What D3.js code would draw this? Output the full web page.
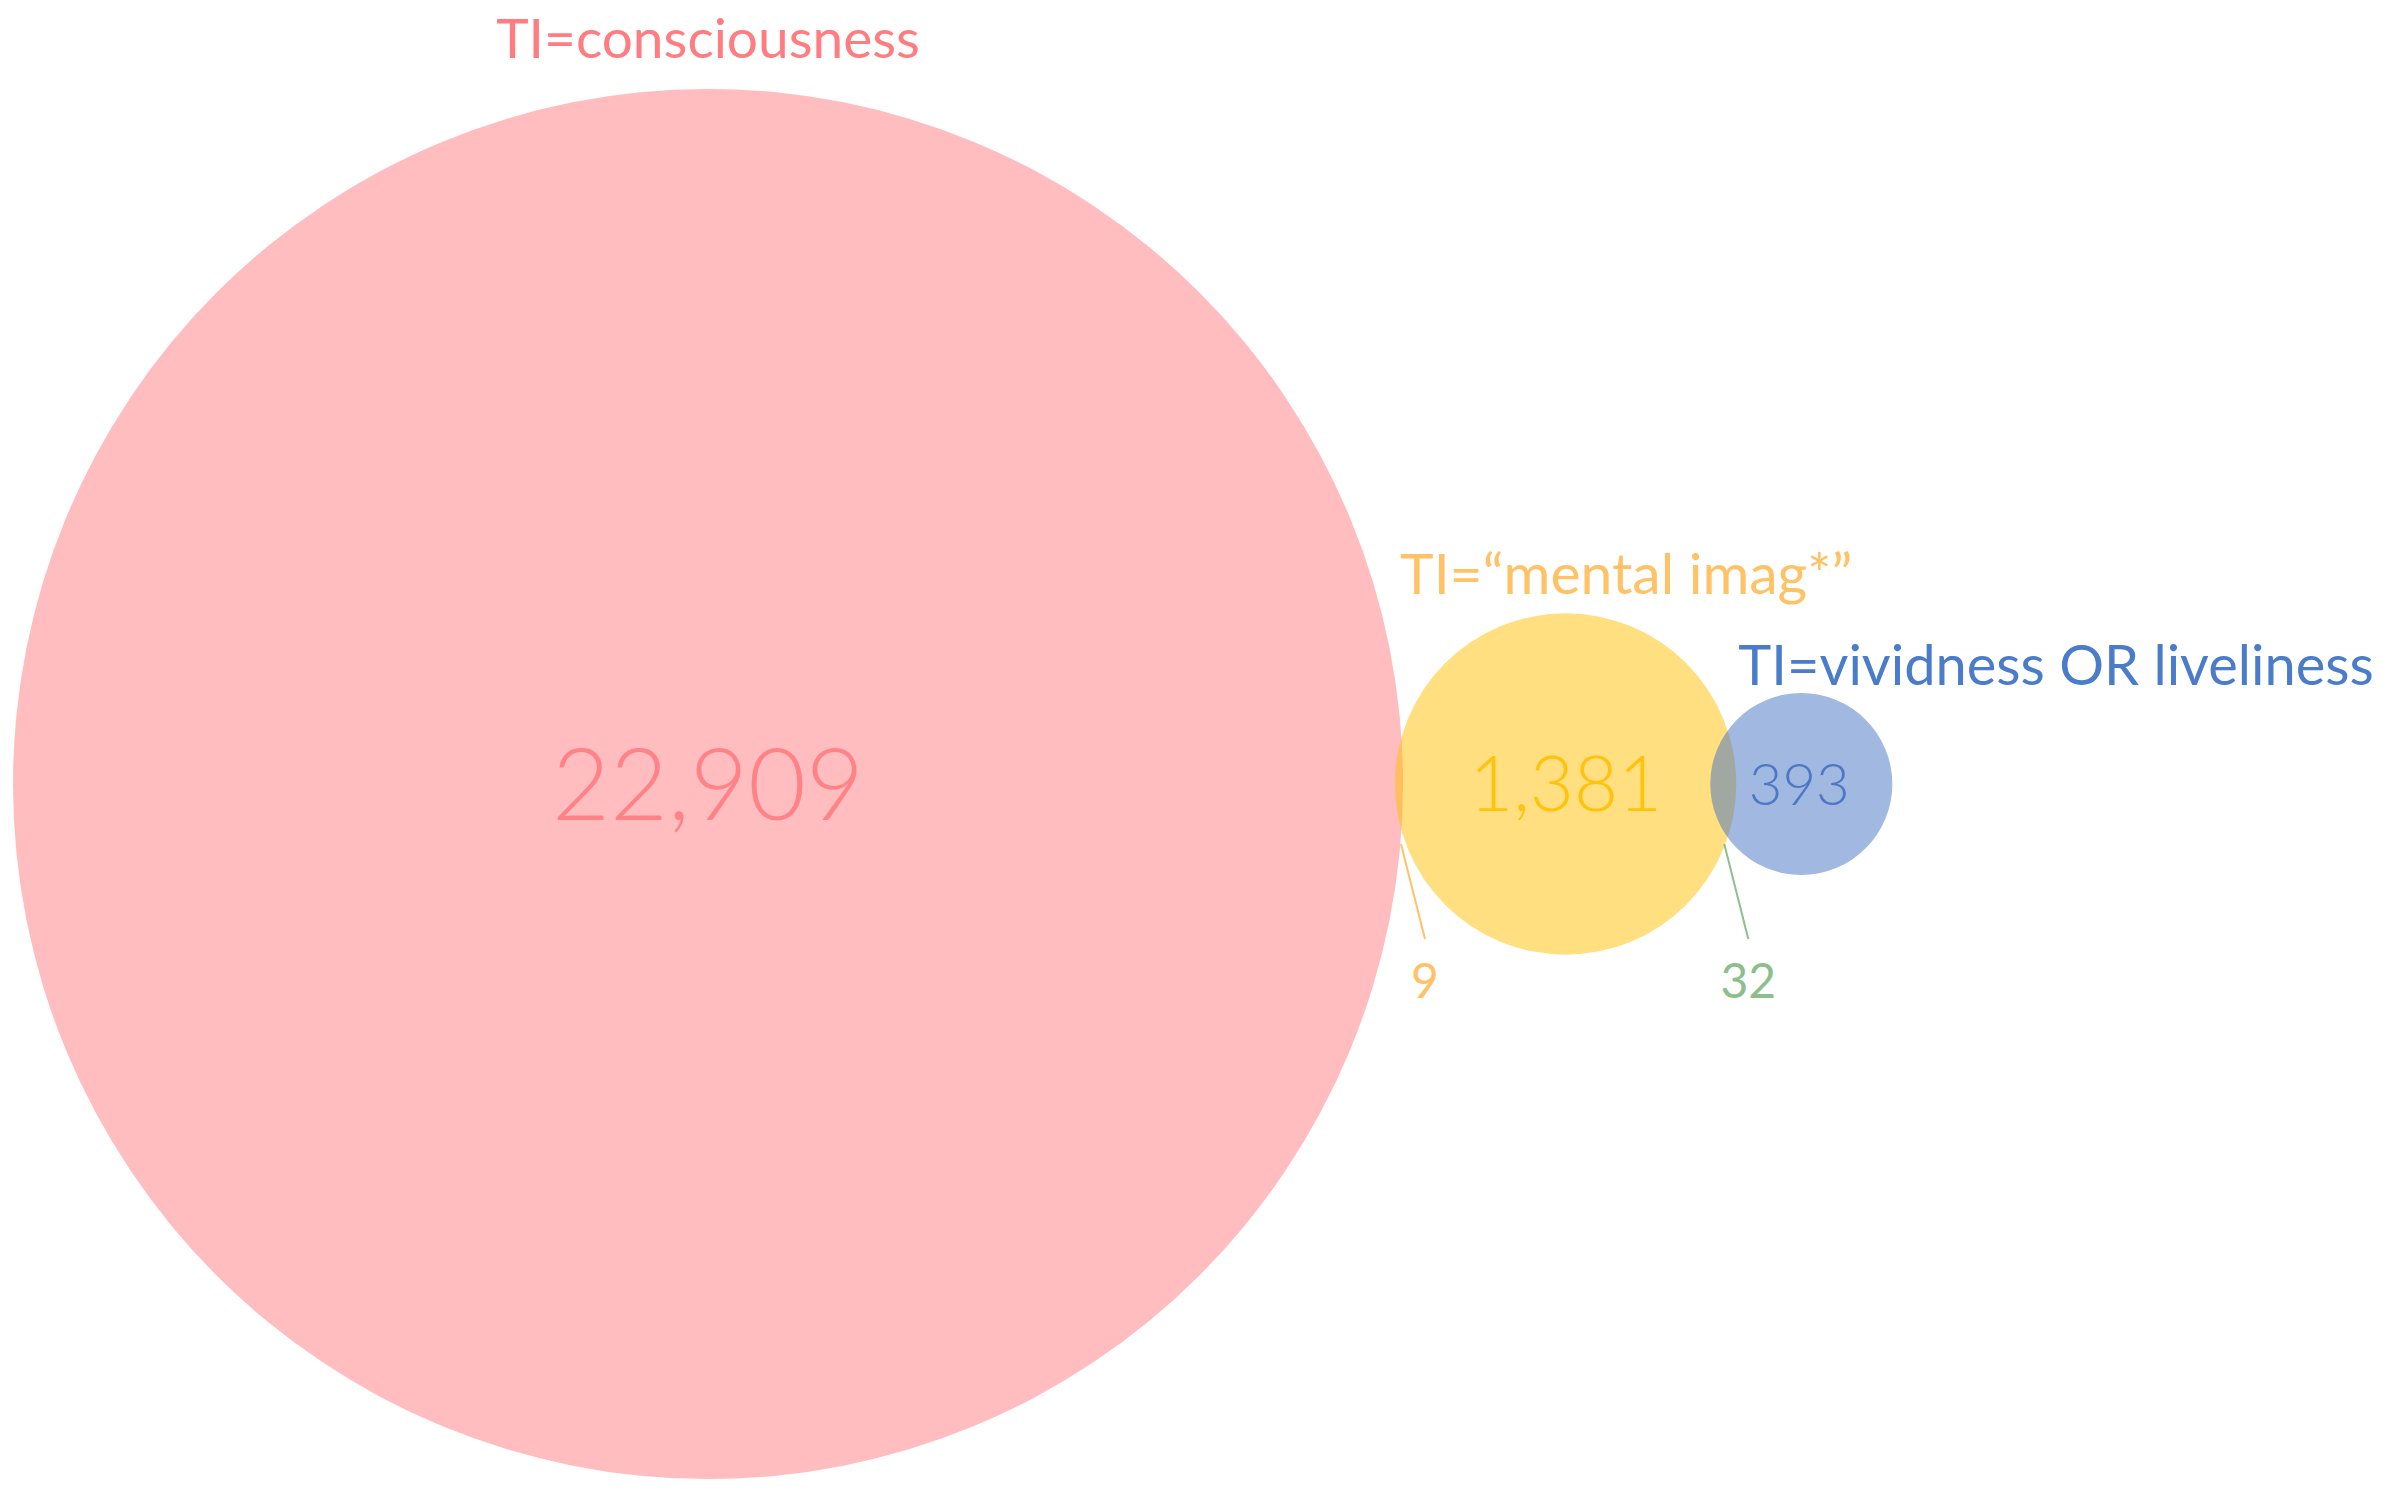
<!DOCTYPE html>
<html><head><meta charset="utf-8">
<script src="https://cdn.jsdelivr.net/npm/d3@7"></script>
<style>body{margin:0;background:#fff}svg{display:block}</style>
</head><body>
<script>
const sets = ["TI=consciousness", "TI=\u201Cmental imag*\u201D", "TI=vividness OR liveliness"];
const counts = [22909, 1381, 393];
const overlaps = [9, 32];
const colors = ["#FF7C80", "#FFC000", "#4472C4"];
const labelColors = ["#FF7C80", "#FFC266", "#4A7CC9"];

const W = 2381, H = 1495;
const svg = d3.select("body").append("svg").attr("width", W).attr("height", H)
  .style("font-family", "Lato, 'Open Sans', sans-serif");
const r = d3.scaleSqrt().domain([0, d3.max(counts)]).range([0, 695]);
const cy = 784;
const R = counts.map(r);
const cx = [];
cx[0] = 708;
cx[1] = cx[0] + R[0] + R[1] - 8;
cx[2] = cx[1] + R[1] + R[2] - 26;

const fmt = d3.format(",");
svg.selectAll("circle").data(counts).join("circle")
  .attr("cx", (d, i) => cx[i]).attr("cy", cy).attr("r", d => r(d))
  .attr("fill", (d, i) => colors[i]).attr("fill-opacity", 0.5);

const numSize = [100, 76, 58];
svg.selectAll("text.num").data(counts).join("text").attr("class", "num")
  .attr("x", (d, i) => cx[i] + (i === 2 ? -2 : 0)).attr("y", cy)
  .attr("dy", "0.36em").attr("text-anchor", "middle")
  .attr("font-size", (d, i) => numSize[i]).attr("font-weight", 300)
  .attr("fill", (d, i) => colors[i])
  .style("opacity", 0.9).text(d => fmt(d));

// set labels
svg.append("text").attr("x", cx[0]).attr("y", 58).attr("text-anchor", "middle")
  .attr("font-size", 55).attr("fill", labelColors[0]).text(sets[0]);
svg.append("text").attr("x", cx[1] - R[1] + 5).attr("y", 594)
  .attr("font-size", 57).attr("fill", labelColors[1]).text(sets[1]);
svg.append("text").attr("x", cx[2] - R[2] + 28).attr("y", 685)
  .attr("font-size", 56).attr("fill", labelColors[2]).text(sets[2]);

// overlap callouts
const ovColors = ["#FFC266", "#8DBF8D"];
const ovX = [cx[0] + R[0] - 2, cx[1] + R[1] - 12];
overlaps.forEach((v, i) => {
  const lx = ovX[i];
  svg.append("line").attr("x1", lx).attr("y1", cy + 60).attr("x2", lx + 24).attr("y2", cy + 155)
    .attr("stroke", ovColors[i]).attr("stroke-width", 2);
  svg.append("text").attr("x", lx + 24).attr("y", cy + 214).attr("text-anchor", "middle")
    .attr("font-size", 48).attr("fill", ovColors[i]).text(v);
});
</script>
</body></html>
